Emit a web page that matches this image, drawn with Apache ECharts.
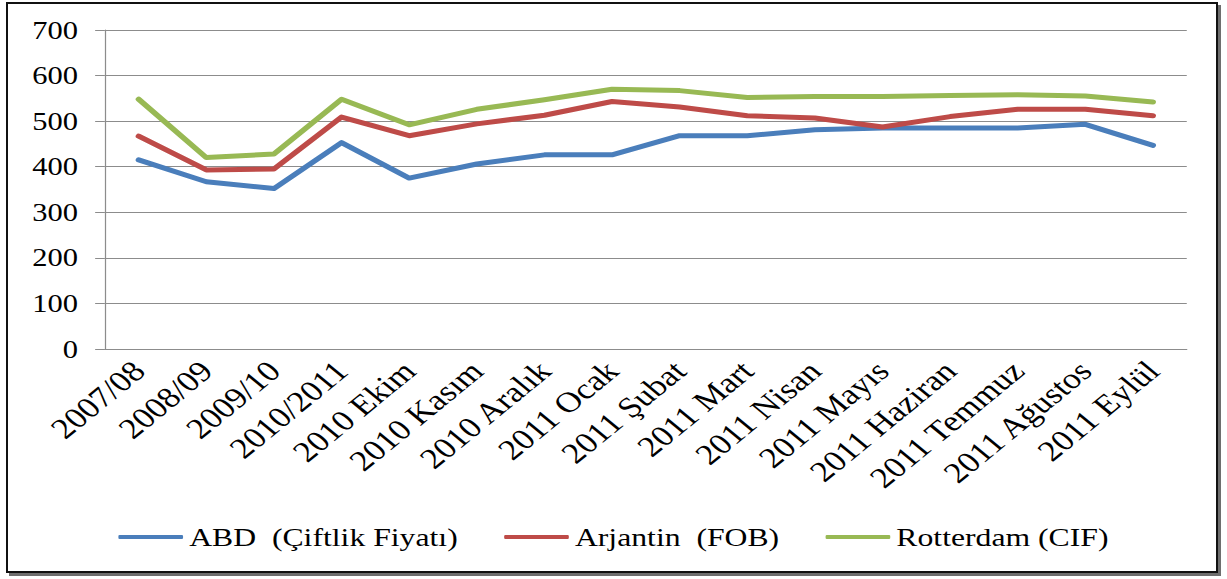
<!DOCTYPE html>
<html>
<head>
<meta charset="utf-8">
<title>Fiyatlar</title>
<script src="https://cdn.jsdelivr.net/npm/echarts@6/dist/echarts.min.js"></script>
<style>
html, body { margin: 0; padding: 0; background: #fff; overflow: hidden; }
/* the reference is stretched sideways, so the chart is drawn narrow and scaled */
#main { position: absolute; left: 0; top: 0; width: 1006px; height: 579px; transform: scaleX(1.2197); transform-origin: 0 0; }
#frame { position: absolute; left: 6px; top: 2px; width: 1208px; height: 567px; border: 2px solid #111; box-shadow: 3px 3px 0 #6e6e6e; pointer-events: none; }
</style>
</head>
<body>
<div id="main"></div>
<div id="frame"></div>
<script>
var categories = ['2007/08', '2008/09', '2009/10', '2010/2011', '2010 Ekim', '2010 Kasım', '2010 Aralık',
    '2011 Ocak', '2011 Şubat', '2011 Mart', '2011 Nisan', '2011 Mayıs', '2011 Haziran', '2011 Temmuz',
    '2011 Ağustos', '2011 Eylül'];
var abd = [415, 367, 352, 453, 375, 406, 426, 426, 468, 468, 481, 485, 485, 485, 493, 447];
var arjantin = [467, 393, 395, 509, 468, 494, 513, 543, 531, 512, 507, 487, 510, 526, 526, 512];
var rotterdam = [548, 420, 428, 548, 492, 526, 547, 570, 567, 552, 554, 554, 556, 558, 555, 542];
var names = ['ABD  (Çiftlik Fiyatı)', 'Arjantin  (FOB)', 'Rotterdam (CIF)'];

var font = 'Liberation Serif';
var gray = '#8c8c8c';

var chart = echarts.init(document.getElementById('main'), null, { renderer: 'svg' });

function line(name, data, color) {
    return {
        name: name,
        type: 'line',
        data: data,
        symbol: 'none',
        color: color,
        lineStyle: { width: 5, color: color, cap: 'round', join: 'round' }
    };
}

var option = {
    animation: false,
    grid: { left: 86, right: 33, top: 30, bottom: 230 },
    legend: {
        data: names,
        left: 'center',
        top: 519,
        icon: 'roundRect',
        itemWidth: 53,
        itemHeight: 4,
        itemGap: 38,
        textStyle: { fontFamily: font, fontSize: 26, color: '#000' }
    },
    xAxis: {
        type: 'category',
        data: categories,
        boundaryGap: true,
        axisLine: { lineStyle: { color: gray, width: 1 } },
        axisTick: { length: 8, lineStyle: { color: gray } },
        axisLabel: { interval: 0, rotate: 45, margin: 17, fontFamily: font, fontSize: 29, color: '#000' }
    },
    yAxis: {
        type: 'value',
        min: 0,
        max: 700,
        interval: 100,
        axisLine: { show: true, lineStyle: { color: gray, width: 1 } },
        axisTick: { show: true, length: 8, lineStyle: { color: gray } },
        axisLabel: { margin: 22, fontFamily: font, fontSize: 25, color: '#000' },
        splitLine: { lineStyle: { color: gray, width: 1 } }
    },
    series: [
        line(names[0], abd, '#4a7ebb'),
        line(names[1], arjantin, '#be4b48'),
        line(names[2], rotterdam, '#98b954')
    ]
};
chart.setOption(option);
</script>
</body>
</html>
